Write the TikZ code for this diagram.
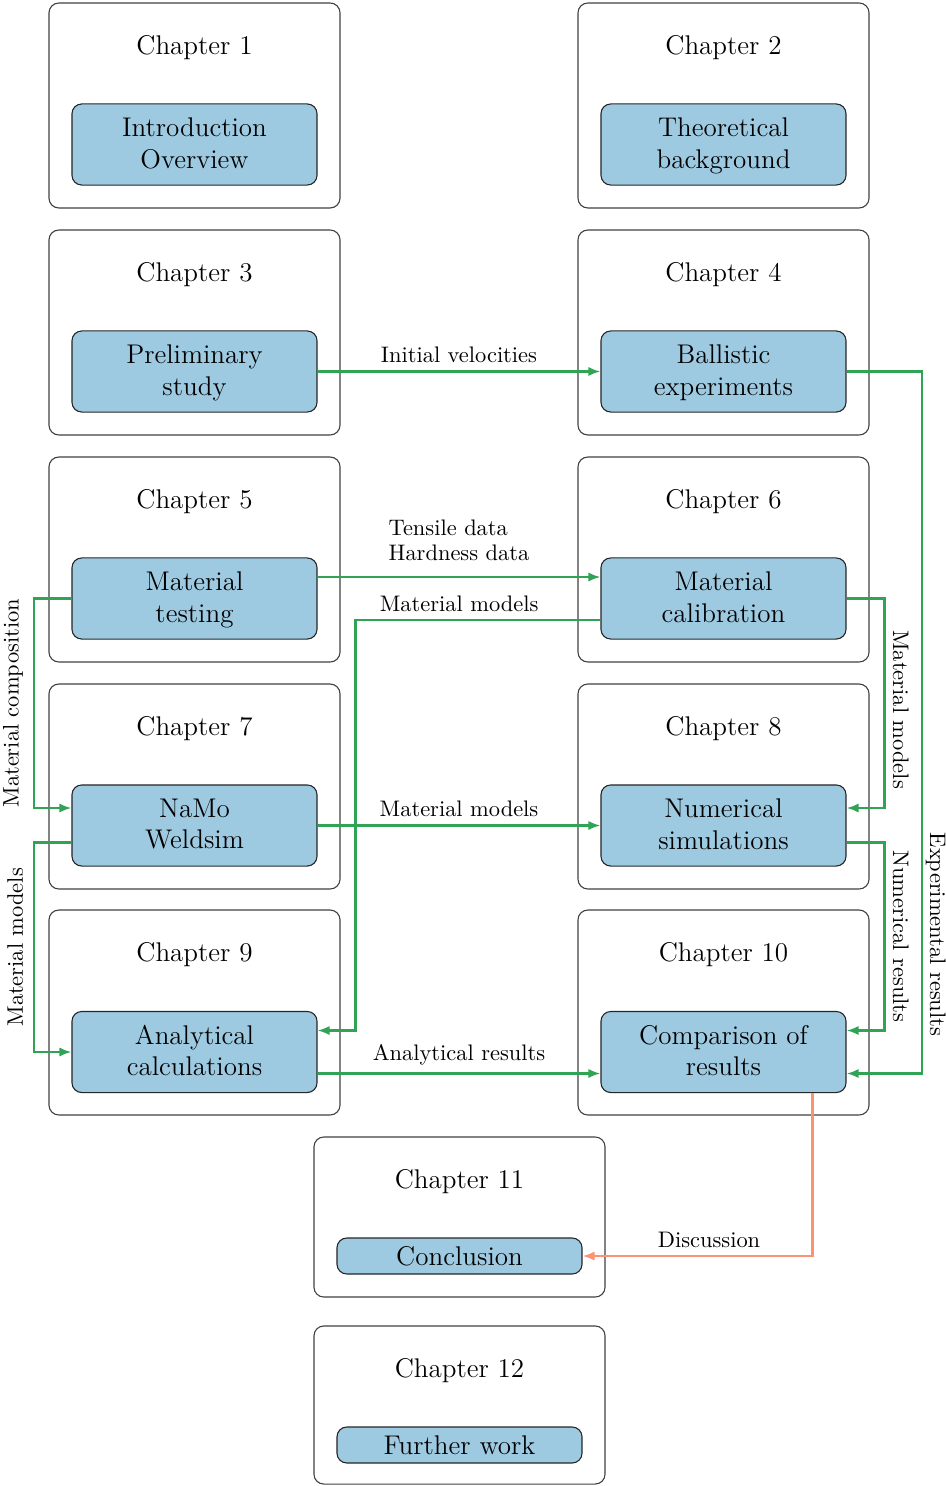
\documentclass[tikz,border=0pt]{standalone}
\usetikzlibrary{arrows.meta,calc}
\definecolor{grn}{HTML}{31A354}
\definecolor{org}{HTML}{FC9272}
\definecolor{blu}{HTML}{9ECAE1}
\tikzset{
  chapbox/.style={draw=black!75, line width=0.5pt, rounded corners=4.5pt, minimum width=133.5pt, minimum height=94pt, inner sep=0pt},
  content/.style={draw=black!85, line width=0.5pt, fill=blu, rounded corners=4.5pt, minimum width=112.4pt, minimum height=37.2pt, align=center, font=\fontsize{12.4}{14.5}\selectfont, inner sep=0pt, text depth=1.5pt},
  smallcontent/.style={content, minimum height=16.5pt, text depth=0pt},
  title/.style={anchor=base, font=\fontsize{12.4}{14.5}\selectfont},
  arr/.style={draw=grn, line width=1pt, -{Latex[length=5.5pt,width=4.2pt]}},
  oarr/.style={draw=org, line width=1pt, -{Latex[length=5.5pt,width=4.2pt]}},
  lbl/.style={font=\fontsize{10.3}{11.5}\selectfont, text=black}
}
\begin{document}
\begin{tikzpicture}[x=0.4587pt, y=-0.4587pt]
\useasboundingbox (0,0) rectangle (945,1486);
% chapter boxes
\node[chapbox] (b1) at (194.5,105.5) {};
\node[chapbox] (b2) at (723.5,105.5) {};
\node[chapbox] (b3) at (194.5,332.5) {};
\node[chapbox] (b4) at (723.5,332.5) {};
\node[chapbox] (b5) at (194.5,559.5) {};
\node[chapbox] (b6) at (723.5,559.5) {};
\node[chapbox] (b7) at (194.5,786.5) {};
\node[chapbox] (b8) at (723.5,786.5) {};
\node[chapbox] (b9) at (194.5,1012.5) {};
\node[chapbox] (b10) at (723.5,1012.5) {};
\node[chapbox, minimum height=73.4pt] (b11) at (459.5,1217) {};
\node[chapbox, minimum height=72.5pt] (b12) at (459.5,1405) {};
% titles
\node[title] (t1) at (194.5,54.5) {Chapter 1};
\node[title] (t2) at (723.5,54.5) {Chapter 2};
\node[title] (t3) at (194.5,281.5) {Chapter 3};
\node[title] (t4) at (723.5,281.5) {Chapter 4};
\node[title] (t5) at (194.5,508.5) {Chapter 5};
\node[title] (t6) at (723.5,508.5) {Chapter 6};
\node[title] (t7) at (194.5,735.5) {Chapter 7};
\node[title] (t8) at (723.5,735.5) {Chapter 8};
\node[title] (t9) at (194.5,961.5) {Chapter 9};
\node[title] (t10) at (723.5,961.5) {Chapter 10};
\node[title] (t11) at (459.5,1188.5) {Chapter 11};
\node[title] (t12) at (459.5,1377.5) {Chapter 12};
% contents
\node[content] (c1) at (194.5,144.5) {Introduction\\Overview};
\node[content] (c2) at (723.5,144.5) {Theoretical\\background};
\node[content] (c3) at (194.5,371.5) {Preliminary\\study};
\node[content] (c4) at (723.5,371.5) {Ballistic\\experiments};
\node[content] (c5) at (194.5,598.5) {Material\\testing};
\node[content] (c6) at (723.5,598.5) {Material\\calibration};
\node[content] (c7) at (194.5,825.5) {NaMo\\Weldsim};
\node[content] (c8) at (723.5,825.5) {Numerical\\simulations};
\node[content] (c9) at (194.5,1052) {Analytical\\calculations};
\node[content] (c10) at (723.5,1052) {Comparison of\\results};
\node[smallcontent] (c11) at (459.5,1256) {Conclusion};
\node[smallcontent] (c12) at (459.5,1445) {Further work};
% ports and routing columns
\coordinate (xl) at (34,0);
\coordinate (xm) at (355.5,0);
\coordinate (xr) at (884.5,0);
\coordinate (xe) at (922,0);
\coordinate (xo) at (812.5,0);
\coordinate (p5e) at ($(c5.east)+(0,-21.5)$);
\coordinate (p6wi) at ($(c6.west)+(0,-21.5)$);
\coordinate (p6wo) at ($(c6.west)+(0,21.5)$);
\coordinate (p7wi) at ($(c7.west)+(0,-17.5)$);
\coordinate (p7wo) at ($(c7.west)+(0,17)$);
\coordinate (p8ei) at ($(c8.east)+(0,-17.5)$);
\coordinate (p8eo) at ($(c8.east)+(0,17)$);
\coordinate (p9ei) at ($(c9.east)+(0,-21.5)$);
\coordinate (p9eo) at ($(c9.east)+(0,21.5)$);
\coordinate (p10wi) at ($(c10.west)+(0,21.5)$);
\coordinate (p10ei) at ($(c10.east)+(0,-21.5)$);
\coordinate (p10ee) at ($(c10.east)+(0,21.5)$);
% connectors
\draw[arr] (c3.east) -- node[lbl, above] {Initial velocities} (c4.west);
\draw[arr] (p5e) -- node[lbl, above, align=left, yshift=3.5pt] {Tensile data\\Hardness data} (p6wi);
\draw[arr] (p6wo) -- node[lbl, above, pos=0.577] {Material models} (p6wo -| xm) |- (p9ei);
\draw[arr] (c7.east) -- node[lbl, above] {Material models} (c8.west);
\draw[arr] (p9eo) -- node[lbl, above] {Analytical results} (p10wi);
\draw[arr] (c5.west) -- (c5.west -| xl) |- node[lbl, pos=0.25, rotate=90, above, inner sep=4.5pt] {Material composition} (p7wi);
\draw[arr] (p7wo) -- (p7wo -| xl) |- node[lbl, pos=0.25, rotate=90, above, inner sep=4.5pt] {Material models} (c9.west);
\draw[arr] (c6.east) -- (c6.east -| xr) |- node[lbl, pos=0.265, rotate=-90, above] {Material models} (p8ei);
\draw[arr] (p8eo) -- (p8eo -| xr) |- node[lbl, pos=0.25, rotate=-90, above] {Numerical results} (p10ei);
\draw[arr] (c4.east) -- (c4.east -| xe) |- node[lbl, pos=0.401, rotate=-90, above, inner sep=1.2pt] {Experimental results} (p10ee);
\draw[oarr] (c10.south -| xo) |- node[lbl, above, pos=0.725] {Discussion} (c11.east);
\end{tikzpicture}
\end{document}
